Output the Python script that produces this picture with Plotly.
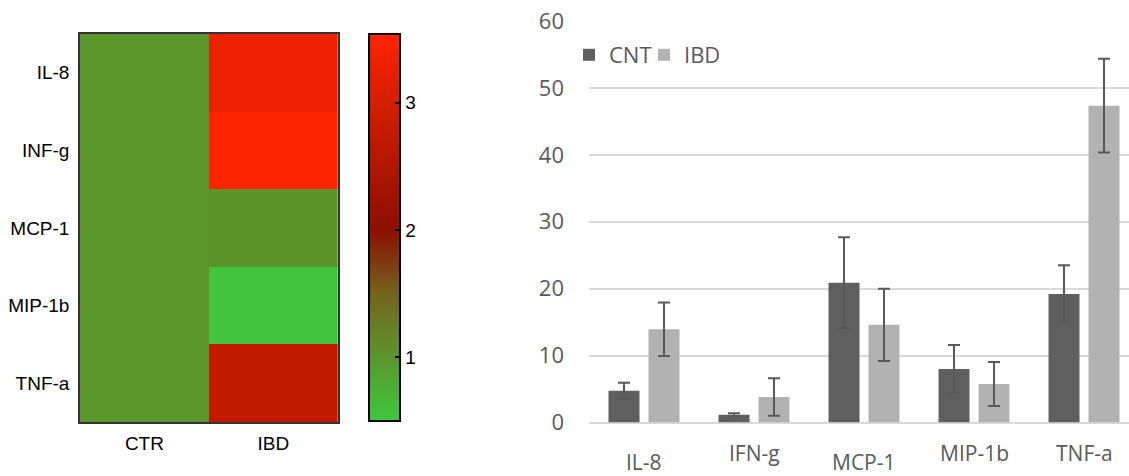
import plotly.graph_objects as go

# Heatmap data
hm_rows = ["IL-8", "INF-g", "MCP-1", "MIP-1b", "TNF-a"]
hm_cols = ["CTR", "IBD"]
hm_ctr = [1.0, 1.0, 1.0, 1.0, 1.0]
hm_ibd = [3.3, 3.5, 1.02, 0.55, 2.75]

# Bar data
categories = ["IL-8", "IFN-g", "MCP-1", "MIP-1b", "TNF-a"]
cnt_vals = [4.75, 1.15, 20.9, 8.0, 19.2]
cnt_err = [1.2, 0.25, 6.8, 3.6, 4.3]
ibd_vals = [13.95, 3.8, 14.6, 5.75, 47.35]
ibd_err = [4.0, 2.8, 5.4, 3.3, 7.0]
y_ticks = [0, 10, 20, 30, 40, 50, 60]

W, H = 1129, 476

zmin, zmax = 0.5, 3.54
def nrm(v):
    return (v - zmin) / (zmax - zmin)

colorscale = [
    [0.0, "rgb(61,201,61)"],
    [nrm(1.0), "rgb(91,150,45)"],
    [nrm(1.5), "rgb(116,100,30)"],
    [nrm(2.0), "rgb(140,15,0)"],
    [nrm(3.0), "rgb(212,30,0)"],
    [1.0, "rgb(255,35,0)"],
]

z = [[c, i] for c, i in zip(hm_ctr, hm_ibd)]

arial = "Liberation Sans, Arial, sans-serif"

fig = go.Figure()
fig.add_trace(go.Heatmap(
    z=z, x=hm_cols, y=hm_rows, colorscale=colorscale, zmin=zmin, zmax=zmax,
    xaxis="x", yaxis="y", showscale=True, hoverinfo="skip",
    colorbar=dict(
        x=368.7 / W, xanchor="left", xpad=0, ypad=0,
        y=1 - 227.5 / H, yanchor="middle",
        len=(421 - 34) / H, lenmode="fraction",
        thickness=31, thicknessmode="pixels",
        outlinewidth=2, outlinecolor="black",
        tickvals=[1, 2, 3], ticks="inside", ticklen=6, tickwidth=2, tickcolor="black",
        tickfont=dict(family=arial, size=19, color="black"),
    ),
))

fig.add_trace(go.Bar(
    x=categories, y=cnt_vals, name="CNT", xaxis="x2", yaxis="y2",
    marker=dict(color="#5f5f5f", line=dict(width=0)),
    error_y=dict(type="data", array=cnt_err, color="#595959", thickness=2, width=6),
))
fig.add_trace(go.Bar(
    x=categories, y=ibd_vals, name="IBD", xaxis="x2", yaxis="y2",
    marker=dict(color="#b2b2b2", line=dict(width=0)),
    error_y=dict(type="data", array=ibd_err, color="#595959", thickness=2, width=6),
))

label_font = dict(family="Open Sans", size=22, color="#595959")
cat_font = dict(family="Open Sans", size=21, color="#595959")
annotations = []
for k, c in enumerate(categories):
    yy = 461.5 if k in (0, 2) else 453
    annotations.append(dict(
        x=c, xref="x2", y=1 - yy / H, yref="paper", text=c, showarrow=False,
        xanchor="center", yanchor="middle", font=cat_font,
    ))

fig.update_layout(
    width=W, height=H, margin=dict(l=0, r=0, t=0, b=0, pad=0, autoexpand=False),
    paper_bgcolor="white", plot_bgcolor="white",
    barmode="group", bargap=0.273, bargroupgap=0.225,
    showlegend=True,
    legend=dict(
        orientation="h", x=569 / W, xanchor="left", y=1 - 55 / H, yanchor="middle",
        font=label_font, itemwidth=30, entrywidth=30, entrywidthmode="pixels",
        bgcolor="rgba(0,0,0,0)", traceorder="normal", itemclick=False,
    ),
    xaxis=dict(
        domain=[80 / W, 337.7 / W], anchor="y", showgrid=False, zeroline=False,
        showline=True, mirror=True, linecolor="#333333", linewidth=1.5,
        ticks="", tickfont=dict(family=arial, size=19, color="black"),
        ticklabelstandoff=3,
    ),
    yaxis=dict(
        domain=[1 - 422 / H, 1 - 34 / H], anchor="x", autorange="reversed",
        showgrid=False, zeroline=False,
        showline=True, mirror=True, linecolor="#333333", linewidth=1.5,
        ticks="", tickfont=dict(family=arial, size=19, color="black"),
        ticklabelstandoff=5,
    ),
    xaxis2=dict(
        domain=[589 / W, 1.0], anchor="y2", range=[-0.5, 4.409],
        showticklabels=False, ticks="", showgrid=False, zeroline=False, showline=False,
    ),
    yaxis2=dict(
        domain=[1 - 422.5 / H, 1 - 21 / H], anchor="x2", range=[0, 60],
        tickvals=y_ticks, showgrid=True, gridcolor="#d9d9d9", gridwidth=1.6,
        zeroline=True, zerolinecolor="#d9d9d9", zerolinewidth=1.6,
        showline=False, ticks="", tickfont=label_font, ticklabelstandoff=24,
    ),
    annotations=annotations,
)

fig.write_html(
    "out.html",
    config={"displayModeBar": False},
    post_script="document.body.style.margin='0px';document.body.style.overflow='hidden';",
)
